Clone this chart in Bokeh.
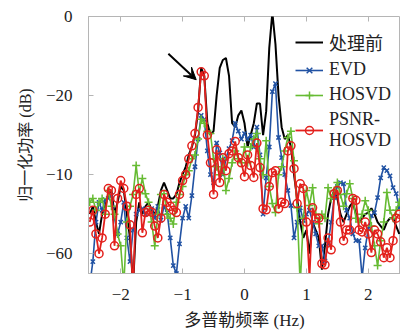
from bokeh.plotting import figure
from bokeh.models import Range1d, FixedTicker, Legend, LegendItem, Arrow, VeeHead, LinearAxis
from bokeh.embed import file_html
from bokeh.resources import INLINE

# Doppler frequency grid (Hz)
freq = [-2.50, -2.45, -2.40, -2.35, -2.30, -2.25, -2.20, -2.15, -2.10, -2.05,
        -2.00, -1.95, -1.90, -1.85, -1.80, -1.75, -1.70, -1.65, -1.60, -1.55,
        -1.50, -1.45, -1.40, -1.35, -1.30, -1.25, -1.20, -1.15, -1.10, -1.05,
        -1.00, -0.95, -0.90, -0.85, -0.80, -0.75, -0.70, -0.65, -0.60, -0.55,
        -0.50, -0.45, -0.40, -0.35, -0.30, -0.25, -0.20, -0.15, -0.10, -0.05,
        0.00, 0.05, 0.10, 0.15, 0.20, 0.25, 0.30, 0.35, 0.40, 0.45,
        0.50, 0.55, 0.60, 0.65, 0.70, 0.75, 0.80, 0.85, 0.90, 0.95,
        1.00, 1.05, 1.10, 1.15, 1.20, 1.25, 1.30, 1.35, 1.40, 1.45,
        1.50, 1.55, 1.60, 1.65, 1.70, 1.75, 1.80, 1.85, 1.90, 1.95,
        2.00, 2.05, 2.10, 2.15, 2.20, 2.25, 2.30, 2.35, 2.40, 2.45,
        2.50]

raw = [-50, -48, -52, -55, -50, -48, -45, -44, -50, -47,
       -43, -44, -50, -56, -68, -52, -47, -50, -48, -47,
       -49, -50, -48, -44, -42, -44, -46, -46, -45, -42,
       -40, -38, -35, -33, -30, -24, -13, -15, -27, -30,
       -29, -20, -13, -11, -10.5, -15, -27, -28, -25, -23.8,
       -27, -33, -30, -27, -22, -22, -30, -24, -8, 1,
       -7, -20, -28, -31, -30, -33, -40, -46, -52, -56,
       -54, -60, -52, -54, -56, -64, -58, -50, -46, -44,
       -46, -50, -52, -50, -48, -47, -50, -52, -51, -50,
       -49.6, -48.5, -50, -52, -53, -54, -52, -51, -51, -53,
       -55]

evd = [-68, -62, -52, -47, -49, -46.3, -46, -45.3, -51, -55,
       -52, -47, -56, -62, -54, -50, -49, -48.6, -50, -49,
       -48.6, -51, -48, -51.5, -48, -49.6, -56, -63, -65, -57.5,
       -51, -48, -51, -45.3, -38, -31, -25, -26, -34, -40,
       -42, -32, -34.5, -40, -36, -33.4, -31.4, -27, -29, -31,
       -29.6, -31, -30, -33, -28, -35, -50, -40.8, -33, -19,
       -17, -30.6, -35.7, -40, -44, -47.8, -56, -52, -48.4, -51.6,
       -50, -49, -52, -55, -58, -58, -61.8, -57.5, -52, -45.8,
       -43, -42, -42.3, -49, -51, -55, -56.7, -56.7, -66, -58.5,
       -53.7, -50.4, -49.6, -45.8, -40.8, -38.2, -39, -40.3, -43.3, -44.8,
       -48.4]

hosvd = [-47, -46, -49, -47, -46, -50, -44, -48, -50, -55,
         -58, -68, -52, -48, -45, -37.7, -44.5, -41, -44.8, -47,
         -52, -58, -50, -45, -44.8, -50, -51, -52.5, -47, -45,
         -43, -40, -39, -36, -35, -31, -26, -27, -29, -29.6,
         -36, -38, -40, -36, -44, -41, -37, -34, -36, -37,
         -33, -37, -33, -31, -29.6, -36, -40, -31.4, -43, -47.3,
         -49.6, -40, -38, -34, -30.6, -29, -36.5, -48.4, -68, -51,
         -44, -47.8, -43.3, -50, -52.4, -50, -51, -43.3, -46, -44,
         -42, -45, -48, -44.8, -42.3, -46, -51, -52, -50, -46.6,
         -49, -53, -58, -63, -56.7, -52, -44.5, -49, -51, -49,
         -47]

psnr = [-52, -49, -55, -60, -56, -50, -43.5, -44, -58, -46,
        -41.5, -43.5, -48, -52.7, -70, -45, -43.5, -54.7, -49.6, -49,
        -49.5, -53, -56, -51, -45, -47, -48, -49, -49.6, -45,
        -41.5, -40, -36, -32.7, -29.6, -23, -14, -15, -30, -37,
        -45, -33.7, -42, -35.7, -39, -34.7, -34, -31.6, -35.7, -37,
        -40.5, -35, -37.7, -40.7, -32, -38.2, -48.6, -48.9, -43, -39.5,
        -39, -48.6, -47, -47.3, -34, -32.7, -38.5, -47.3, -42.3, -43.5,
        -52, -66, -48.4, -51, -51, -62.5, -62.8, -56, -59, -44.8,
        -44, -52, -56.7, -54, -54, -46, -46.5, -54, -54.5, -52,
        -55, -59.7, -54, -55, -57, -61, -58.5, -61, -56.7, -51,
        -50]

x_ticks = [-2, -1, 0, 1, 2]
x_labels = {-2: "\u22122", -1: "\u22121", 0: "0", 1: "1", 2: "2"}
y_ticks = [0, -20, -40, -60]
y_labels = {0: "0", -20: "\u221220", -40: "\u221210", -60: "\u221260"}

labels = ["处理前", "EVD", "HOSVD", "PSNR-\nHOSVD"]
colors = ["#000000", "#2152a3", "#66bb33", "#e3201c"]

arrow_start = (-1.23, -9.4)
arrow_end = (-0.78, -16.0)

FONT = "'Liberation Serif', 'Noto Sans CJK SC'"

p = figure(width=400, height=334, x_range=Range1d(-2.52, 2.52), y_range=Range1d(-65, 0),
           output_backend="svg", toolbar_location=None,
           min_border_left=88, min_border_top=16, min_border_right=0, min_border_bottom=61)
p.grid.visible = False
p.outline_line_color = "#b5b5b5"
p.outline_line_width = 1

for ax in (p.xaxis[0], p.yaxis[0]):
    ax.axis_line_color = "#b5b5b5"
    ax.major_tick_line_color = "#b5b5b5"
    ax.major_tick_in = 5
    ax.major_tick_out = 0
    ax.minor_tick_line_color = None
    ax.major_label_text_font = FONT
    ax.major_label_text_font_size = "17px"
    ax.major_label_text_color = "#222222"
    ax.axis_label_text_font = FONT
    ax.axis_label_text_font_style = "normal"
    ax.axis_label_text_color = "#222222"

p.xaxis.ticker = FixedTicker(ticks=x_ticks)
p.xaxis.major_label_overrides = x_labels
p.xaxis.axis_label = "多普勒频率 (Hz)"
p.xaxis.axis_label_text_font_size = "17px"
p.xaxis.major_label_standoff = 15
p.xaxis.axis_label_standoff = 8

p.yaxis.ticker = FixedTicker(ticks=y_ticks)
p.yaxis.major_label_overrides = y_labels
p.yaxis.axis_label = "归一化功率 (dB)"
p.yaxis.axis_label_text_font_size = "16px"
p.yaxis.major_label_standoff = 16
p.yaxis.axis_label_standoff = 9

top = LinearAxis(ticker=FixedTicker(ticks=x_ticks), axis_line_color=None,
                 major_tick_line_color="#b5b5b5", major_tick_in=5, major_tick_out=0,
                 minor_tick_line_color=None, major_label_text_font_size="1px",
                 major_label_overrides={t: "" for t in x_ticks},
                 major_label_standoff=0)
p.add_layout(top, "above")

r_raw = p.line(freq, raw, line_color=colors[0], line_width=2)

l_evd = p.line(freq, evd, line_color=colors[1], line_width=1.6)
s_evd = p.scatter(freq, evd, marker="x", size=6, line_color=colors[1], line_width=1.5)

l_hos = p.line(freq, hosvd, line_color=colors[2], line_width=1.6)
s_hos = p.scatter(freq, hosvd, marker="cross", size=8, line_color=colors[2], line_width=1.5)

l_ps = p.line(freq, psnr, line_color=colors[3], line_width=1.8)
s_ps = p.scatter(freq, psnr, marker="circle", size=8, line_color=colors[3], fill_color=None, line_width=1.5)

p.add_layout(Arrow(end=VeeHead(size=12, fill_color="black", line_color="black"),
                   x_start=arrow_start[0], y_start=arrow_start[1],
                   x_end=arrow_end[0], y_end=arrow_end[1],
                   line_color="black", line_width=2))

items = [LegendItem(label=labels[0], renderers=[r_raw]),
         LegendItem(label=labels[1], renderers=[l_evd, s_evd]),
         LegendItem(label=labels[2], renderers=[l_hos, s_hos]),
         LegendItem(label=labels[3], renderers=[l_ps, s_ps])]
legend = Legend(items=items, location=(207, 122), background_fill_alpha=0,
                border_line_color=None, padding=0, margin=0, spacing=4,
                glyph_width=28, glyph_height=20, label_standoff=6, label_height=20,
                label_text_font=FONT, label_text_font_size="18px", label_text_color="#222222")
p.add_layout(legend)

open("out.html", "w").write(file_html(p, INLINE))
